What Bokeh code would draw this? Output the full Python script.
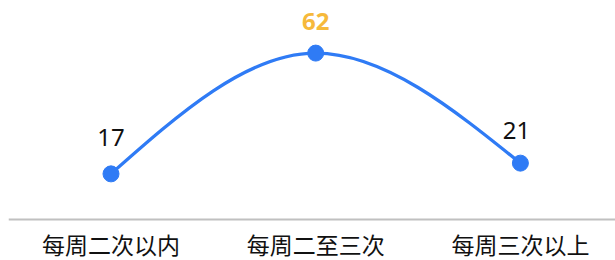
from bokeh.plotting import figure
from bokeh.models import Range1d, ColumnDataSource, Span
from bokeh.embed import file_html
from bokeh.resources import INLINE
from bokeh.core.properties import value

categories = ["每周二次以内", "每周二至三次", "每周三次以上"]
values = [17, 62, 21]
label_colors = ["#111111", "#f6b93b", "#111111"]
label_weights = ["normal", "bold", "normal"]

xs = list(range(len(values)))

p = figure(width=615, height=260, output_backend="svg", toolbar_location=None,
           x_range=Range1d(-0.5007, 2.4646), y_range=Range1d(-15.28, 81.6),
           min_border_left=8, min_border_right=0, min_border_top=0, min_border_bottom=0)
p.outline_line_color = None
p.grid.visible = False
p.xaxis.visible = False
p.yaxis.visible = False
p.background_fill_color = "white"
p.border_fill_color = "white"

# baseline (category axis line) at value 0
p.add_layout(Span(location=0, dimension="width", line_color="#c0c0c0", line_width=2))

# monotone cubic tangents
n = len(values)
sec = [values[i + 1] - values[i] for i in range(n - 1)]
m = [0.0] * n
for i in range(1, n - 1):
    if sec[i - 1] * sec[i] <= 0:
        m[i] = 0.0
    else:
        m[i] = 2.0 / (1.0 / sec[i - 1] + 1.0 / sec[i])
m[0] = (3 * sec[0] - m[1]) / 2
m[-1] = (3 * sec[-1] - m[-2]) / 2

bz = dict(x0=[], y0=[], x1=[], y1=[], cx0=[], cy0=[], cx1=[], cy1=[])
for i in range(n - 1):
    bz["x0"].append(xs[i]); bz["y0"].append(values[i])
    bz["x1"].append(xs[i + 1]); bz["y1"].append(values[i + 1])
    bz["cx0"].append(xs[i] + 1 / 3); bz["cy0"].append(values[i] + m[i] / 3)
    bz["cx1"].append(xs[i + 1] - 1 / 3); bz["cy1"].append(values[i + 1] - m[i + 1] / 3)

p.bezier(x0="x0", y0="y0", x1="x1", y1="y1", cx0="cx0", cy0="cy0", cx1="cx1", cy1="cy1",
         source=ColumnDataSource(bz), line_color="#2f7bf5", line_width=3.3)

src = ColumnDataSource(dict(x=xs, y=values, t=[str(v) for v in values],
                            c=label_colors, w=label_weights,
                            yo=[-36.5, -32, -33], xo=[0, 0, -4]))
p.scatter("x", "y", source=src, size=16, fill_color="#2f7bf5", line_color="#2f7bf5")
p.text("x", "y", text="t", source=src, text_color="c", text_font_style="w",
       x_offset="xo", y_offset="yo", text_align="center", text_baseline="middle",
       text_font=value("Noto Sans"), text_font_size="24px")

# category labels below the baseline
cat_src = ColumnDataSource(dict(x=xs, y=[0] * len(xs), t=categories))
p.text("x", "y", text="t", source=cat_src, text_color="#111111",
       y_offset=25, text_align="center", text_baseline="middle",
       text_font=value("Noto Sans CJK SC"), text_font_size="23px")

open("out.html", "w").write(file_html(p, INLINE))
